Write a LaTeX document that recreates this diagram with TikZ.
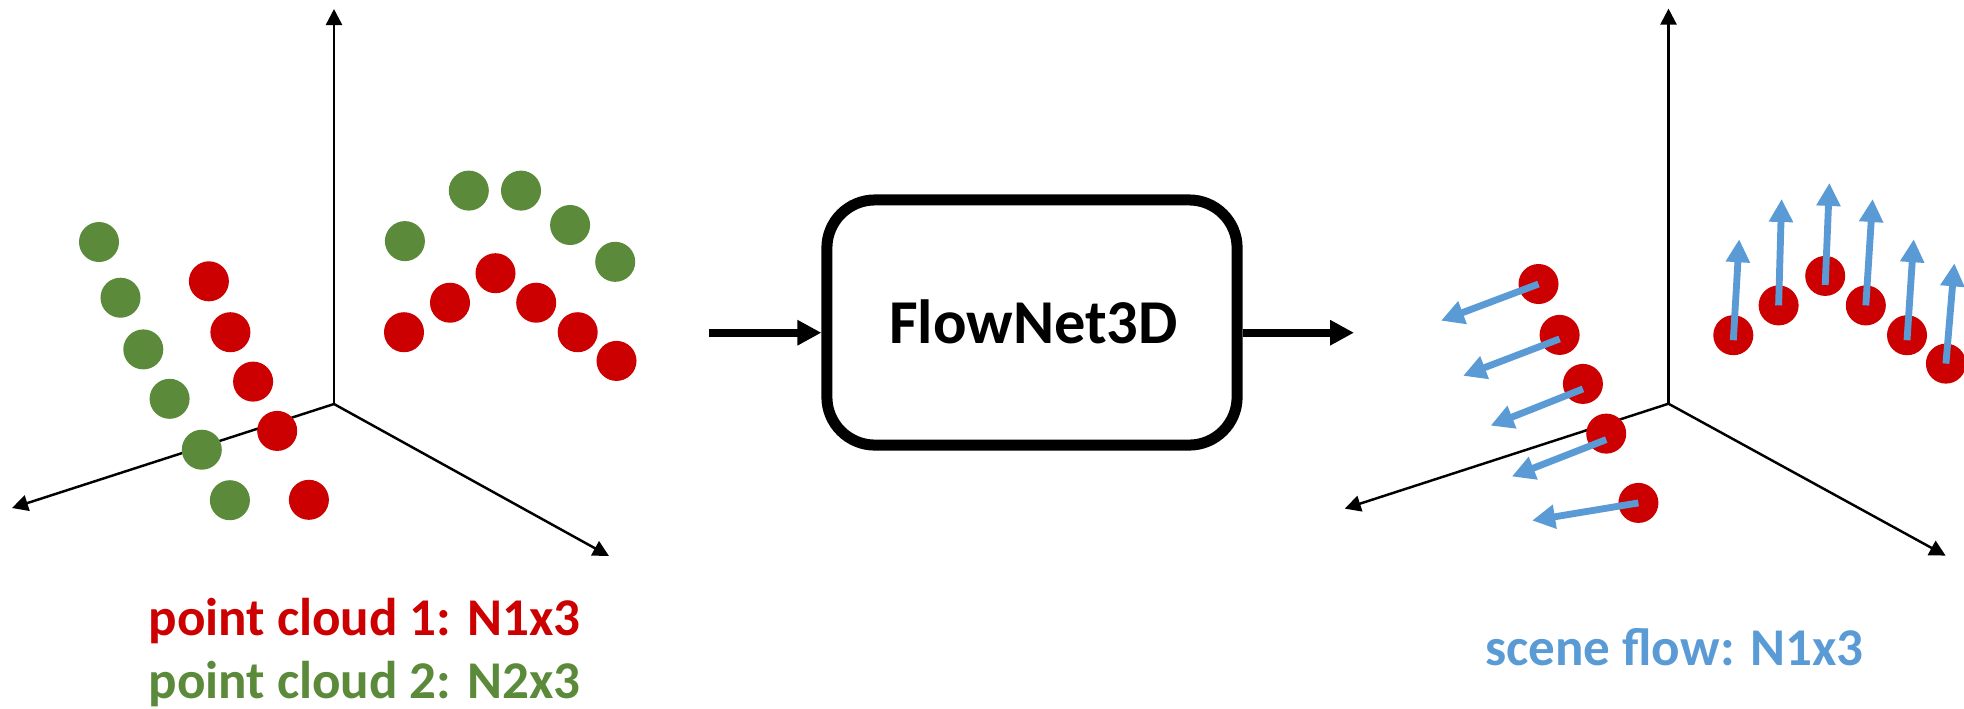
\documentclass[tikz,border=0pt]{standalone}
\usepackage{fontspec}
\setmainfont{Carlito}
\usetikzlibrary{arrows.meta}
\definecolor{pcred}{RGB}{204,0,0}
\definecolor{pcgreen}{RGB}{91,138,58}
\definecolor{flowblue}{RGB}{91,155,213}
\tikzset{
  axis/.style={line width=0.7pt,-{Triangle[length=0.16cm,width=0.16cm]}},
  reddot/.style={circle,fill=pcred,inner sep=0pt,minimum size=0.4cm},
  greendot/.style={circle,fill=pcgreen,inner sep=0pt,minimum size=0.4cm},
  flowarrow/.style={draw=flowblue,line width=1.95pt,-{Triangle[length=0.23cm,width=0.23cm]}},
  pipearrow/.style={line width=2.3pt,-{Triangle[length=0.24cm,width=0.24cm]}},
  netbox/.style={draw,line width=0.11cm,rounded corners=0.48cm,minimum width=4.1cm,minimum height=2.45cm},
  label/.style={inner sep=0pt,anchor=base,font=\fontsize{15.1pt}{18pt}\selectfont\bfseries}
}
\begin{document}
\begin{tikzpicture}[x=0.01cm,y=-0.01cm]
\useasboundingbox (0,0) rectangle (1964,708);

% input axes
\coordinate (o1) at (334,404);
\coordinate (up1) at (334,9);
\coordinate (lf1) at (12,508);
\coordinate (rt1) at (609,556);
\draw[axis] (o1) -- (up1);
\draw[axis] (o1) -- (lf1);
\draw[axis] (o1) -- (rt1);

% point cloud 2
\node[greendot] (g1) at (99,242) {};
\node[greendot] (g2) at (120.5,297.7) {};
\node[greendot] (g3) at (143.3,349.4) {};
\node[greendot] (g4) at (169.6,398.8) {};
\node[greendot] (g5) at (201.8,449.7) {};
\node[greendot] (g6) at (229.9,500.2) {};
\node[greendot] (g7) at (404.9,241.1) {};
\node[greendot] (g8) at (468.8,190.6) {};
\node[greendot] (g9) at (521,190.6) {};
\node[greendot] (g10) at (570.1,225) {};
\node[greendot] (g11) at (615.2,261.8) {};

% point cloud 1
\node[reddot] (r1) at (208.9,281.3) {};
\node[reddot] (r2) at (230.4,332.2) {};
\node[reddot] (r3) at (253.1,381.6) {};
\node[reddot] (r4) at (277.2,430.9) {};
\node[reddot] (r5) at (308.9,499.8) {};
\node[reddot] (r6) at (404,332.2) {};
\node[reddot] (r7) at (450,302.7) {};
\node[reddot] (r8) at (495.5,273.2) {};
\node[reddot] (r9) at (536.2,302.7) {};
\node[reddot] (r10) at (577.7,332.2) {};
\node[reddot] (r11) at (616.5,360.9) {};

\node[label,text=pcred] (lab1) at (364.6,635) {point cloud 1: N1x3};
\node[label,text=pcgreen] (lab2) at (364.6,698.3) {point cloud 2: N2x3};

% network block
\node[netbox] (net) at (1032,322.5) {};
\node[inner sep=0pt,anchor=base,font=\fontsize{17.75pt}{21pt}\selectfont\bfseries] (netname) at (1033.5,343) {FlowNet3D};
\coordinate (inL) at (709,332.7);
\coordinate (outR) at (1354,332.7);
\draw[pipearrow] (inL) -- (inL -| net.west);
\draw[pipearrow] (outR -| net.east) -- (outR);

% output axes
\coordinate (o2) at (1668.5,403.7);
\coordinate (up2) at (1668.5,8.6);
\coordinate (lf2) at (1344.7,508.6);
\coordinate (rt2) at (1945.6,555.6);
\draw[axis] (o2) -- (up2);
\draw[axis] (o2) -- (lf2);
\draw[axis] (o2) -- (rt2);

% points of cloud 1 with their flow vectors
\node[reddot] (s1) at (1538.5,284) {};
\node[reddot] (s2) at (1559.6,334.9) {};
\node[reddot] (s3) at (1582.9,383.9) {};
\node[reddot] (s4) at (1606.2,433.6) {};
\node[reddot] (s5) at (1638.4,502.9) {};
\node[reddot] (s6) at (1733.3,335.2) {};
\node[reddot] (s7) at (1778.6,305.4) {};
\node[reddot] (s8) at (1825.2,275.9) {};
\node[reddot] (s9) at (1865.8,305.4) {};
\node[reddot] (s10) at (1907,335.2) {};
\node[reddot] (s11) at (1945.9,363.6) {};

\coordinate (f1) at (1441,320.7);
\coordinate (f2) at (1463.1,375.8);
\coordinate (f3) at (1490.6,425.6);
\coordinate (f4) at (1511.8,476.5);
\coordinate (f5) at (1532.1,520.5);
\coordinate (f6) at (1739.2,239.2);
\coordinate (f7) at (1781.6,199);
\coordinate (f8) at (1829.4,182.9);
\coordinate (f9) at (1872.6,199);
\coordinate (f10) at (1913.7,239.2);
\coordinate (f11) at (1954.4,263.3);

\draw[flowarrow] (s1.center) -- (f1);
\draw[flowarrow] ([yshift=-0.04cm]s2.center) -- (f2);
\draw[flowarrow] ([yshift=-0.05cm]s3.center) -- (f3);
\draw[flowarrow] ([yshift=-0.06cm]s4.center) -- (f4);
\draw[flowarrow] (s5.center) -- (f5);
\draw[flowarrow] ([yshift=-0.05cm]s6.center) -- (f6);
\draw[flowarrow] (s7.center) -- (f7);
\draw[flowarrow] ([yshift=-0.09cm]s8.center) -- (f8);
\draw[flowarrow] (s9.center) -- (f9);
\draw[flowarrow] ([yshift=-0.05cm]s10.center) -- (f10);
\draw[flowarrow] (s11.center) -- (f11);

\node[label,text=flowblue] (lab3) at (1674.5,665) {scene flow: N1x3};
\end{tikzpicture}
\end{document}
